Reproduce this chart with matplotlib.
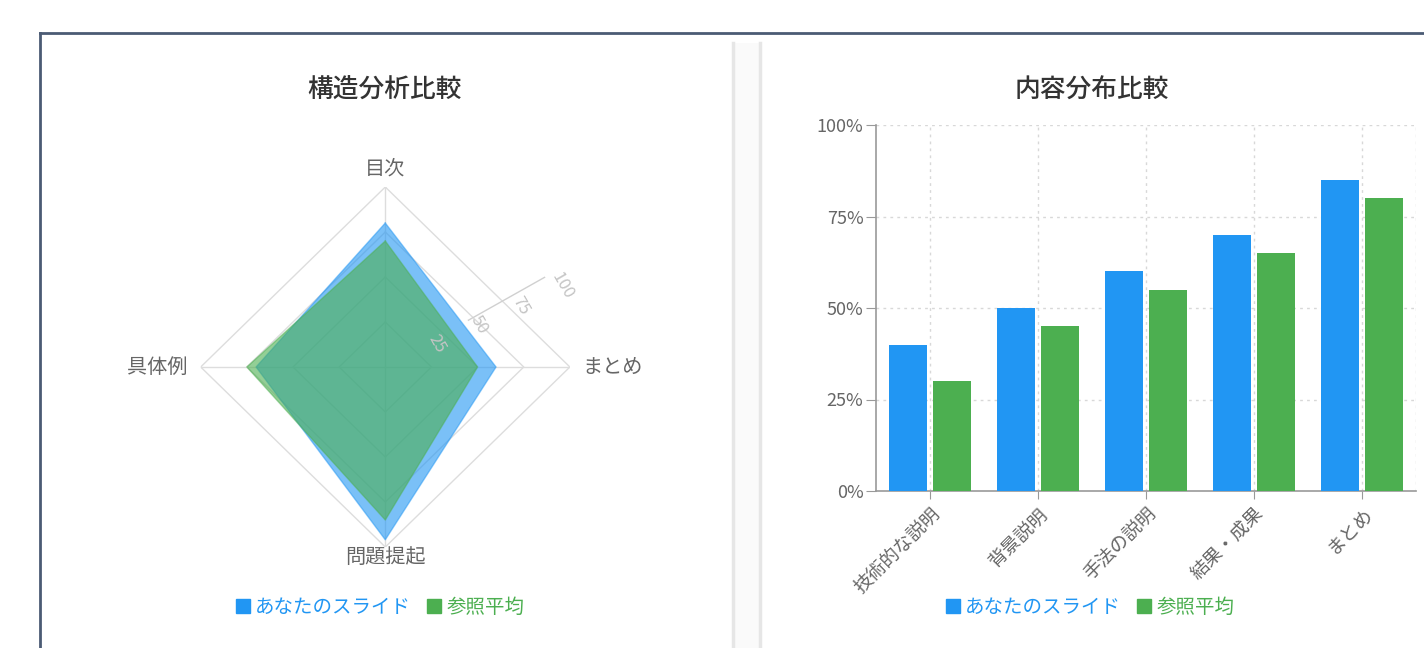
import numpy as np
import matplotlib
matplotlib.use("Agg")
import matplotlib.pyplot as plt
from matplotlib.lines import Line2D
from matplotlib.patches import Patch, Rectangle

plt.rcParams['font.family'] = ['Noto Sans CJK JP', 'DejaVu Sans']

# radar data
radar_labels = ['目次', 'まとめ', '問題提起', '具体例']
radar_yours = [80, 60, 96, 70]
radar_ref = [70, 50, 85, 75]
radar_ticks = [25, 50, 75, 100]

# bar data
bar_labels = ['技術的な説明', '背景説明', '手法の説明', '結果・成果', 'まとめ']
bar_yours = [40, 50, 60, 70, 85]
bar_ref = [30, 45, 55, 65, 80]
y_ticks = [0, 25, 50, 75, 100]
y_ticklabels = ['0%', '25%', '50%', '75%', '100%']

series_names = ['あなたのスライド', '参照平均']
blue = '#2196F3'
green = '#4CAF50'
grey_txt = '#666666'
grid_c = '#dddddd'

W, H = 1424, 648
fig = plt.figure(figsize=(W / 100, H / 100), dpi=100)

def fx(px):
    return px / W

def fy(py):
    return 1 - py / H

# outer frame and card divider
fig.add_artist(Line2D([fx(40), 1], [fy(33), fy(33)], color='#4b5b74', lw=2))
fig.add_artist(Line2D([fx(40), fx(40)], [fy(33), 0], color='#4b5b74', lw=2))
fig.add_artist(Rectangle((fx(733), 0), fx(27), fy(43), color='#fafafa', lw=0))
fig.add_artist(Line2D([fx(733), fx(733)], [fy(43), 0], color='#e6e6e6', lw=2.5))
fig.add_artist(Line2D([fx(760), fx(760)], [fy(43), 0], color='#e6e6e6', lw=2.5))

# titles
fig.text(fx(385), fy(90), '構造分析比較', ha='center', va='center', fontsize=18.5,
         color='#333333', weight='medium')
fig.text(fx(1092), fy(90), '内容分布比較', ha='center', va='center', fontsize=18.5,
         color='#333333', weight='medium')

# ---- radar ----
ax = fig.add_axes([fx(200.7), fy(547), fx(369.2), 360 / H], projection='polar')
ax.set_aspect('auto')
ax.set_theta_offset(np.pi / 2)
ax.set_theta_direction(-1)
ax.set_ylim(0, 100)
ax.grid(False)
ax.spines['polar'].set_visible(False)
ax.set_xticks([])
ax.set_yticks([])
ax.patch.set_alpha(0)

n = len(radar_labels)
angles = np.arange(n) * 2 * np.pi / n
ang_closed = np.append(angles, angles[0])

for r in radar_ticks:
    ax.plot(ang_closed, [r] * (n + 1), color=grid_c, lw=1, zorder=1)
for a in angles:
    ax.plot([a, a], [0, 100], color=grid_c, lw=1, zorder=1)

yours_c = radar_yours + radar_yours[:1]
ref_c = radar_ref + radar_ref[:1]
ax.fill(ang_closed, yours_c, color=blue, alpha=0.6, lw=0, zorder=2)
ax.plot(ang_closed, yours_c, color=blue, alpha=0.5, lw=1, zorder=2)
ax.fill(ang_closed, ref_c, color=green, alpha=0.6, lw=0, zorder=3)
ax.plot(ang_closed, ref_c, color=green, alpha=0.5, lw=1, zorder=3)

# tilted radial scale
tick_ang = np.deg2rad(60)
ax.plot([tick_ang, tick_ang], [52, 102], color='#d0d0d0', lw=1, zorder=4)
for r in radar_ticks:
    ax.text(np.deg2rad(65), r + 6, str(r), rotation=-60, ha='center', va='center',
            fontsize=12, color='#c4c4c4', zorder=4)

ax.text(angles[0], 104, radar_labels[0], ha='center', va='bottom', fontsize=14.5, color=grey_txt)
ax.text(angles[1], 107, radar_labels[1], ha='left', va='center', fontsize=14.5, color=grey_txt)
ax.text(angles[2], 100, radar_labels[2], ha='center', va='top', fontsize=14.5, color=grey_txt)
ax.text(angles[3], 107, radar_labels[3], ha='right', va='center', fontsize=14.5, color=grey_txt)

# ---- bars ----
bx = fig.add_axes([fx(876), fy(491), fx(540), 366 / H])
x = np.arange(len(bar_labels))
bw = 0.355
bx.bar(x - 0.205, bar_yours, width=bw, color=blue, zorder=3)
bx.bar(x + 0.205, bar_ref, width=bw, color=green, zorder=3)
bx.set_xlim(-0.5, len(bar_labels) - 0.5)
bx.set_ylim(0, 100)
bx.set_yticks(y_ticks)
bx.set_yticklabels(y_ticklabels, fontsize=13, color=grey_txt)
bx.set_xticks(x)
bx.set_xticklabels(bar_labels, rotation=45, ha='right', rotation_mode='anchor',
                   fontsize=13.5, color=grey_txt)
bx.tick_params(axis='y', length=7, color='#999999', pad=2)
bx.tick_params(axis='x', length=6, color='#999999', pad=3)
for v in y_ticks[1:]:
    bx.axhline(v, color='#d8d8d8', lw=1, ls=(0, (2, 3)), zorder=1)
for xi in list(x) + [len(bar_labels) - 0.5]:
    bx.axvline(xi, color='#d8d8d8', lw=1, ls=(0, (2, 3)), zorder=1)
for s in ['top', 'right']:
    bx.spines[s].set_visible(False)
for s in ['left', 'bottom']:
    bx.spines[s].set_color('#999999')
    bx.spines[s].set_linewidth(1.2)
bx.patch.set_alpha(0)

# legends
handles = [Patch(color=blue), Patch(color=green)]
for cx in (380, 1090):
    leg = fig.legend(handles, series_names, loc='center', bbox_to_anchor=(fx(cx), fy(607)),
                     ncol=2, frameon=False, fontsize=14, handlelength=0.75, handleheight=0.75,
                     handletextpad=0.25, columnspacing=0.8)
    for t, c in zip(leg.get_texts(), [blue, green]):
        t.set_color(c)

fig.savefig('out.png', dpi=100)
